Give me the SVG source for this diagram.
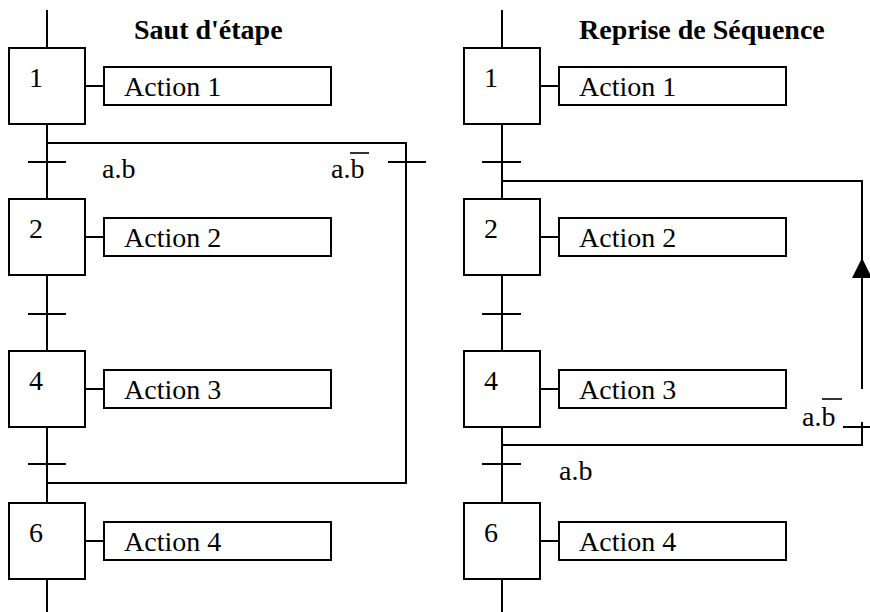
<svg xmlns="http://www.w3.org/2000/svg" width="870" height="612" viewBox="0 0 870 612" font-family="'Liberation Serif', 'Times New Roman', serif" font-size="28">
  <style>
    .box { fill: #fff; stroke: #000; stroke-width: 2; }
    .ln { fill: none; stroke: #000; stroke-width: 2; }
    .bar { stroke: #000; stroke-width: 1.6; }
  </style>
  <defs>
    <marker id="arrowHead" viewBox="0 0 20 20" refX="20" refY="10" markerWidth="20" markerHeight="20" markerUnits="userSpaceOnUse" orient="auto">
      <path d="M0,0 L20,10 L0,20 Z" fill="#000"/>
    </marker>
  </defs>

  <rect width="870" height="612" fill="#fff"/>

  <!-- Titles -->
  <g font-weight="bold">
    <text x="134" y="39">Saut d'étape</text>
    <text x="579" y="39">Reprise de Séquence</text>
  </g>

  <!-- Connectors: main flow lines, transitions, branches -->
  <g id="connectors">
    <!-- left chart: main vertical flow -->
    <path class="ln" d="M47,10 V48 M47,124 V199 M47,275 V351 M47,427 V503 M47,579 V612"/>
    <!-- left chart: transitions -->
    <path class="ln" d="M28,162 H66 M28,314 H66 M28,464 H66"/>
    <!-- left chart: step skip branch -->
    <path class="ln" d="M47,143 H406 V483 H47"/>
    <path class="ln" d="M388,162 H426"/>

    <!-- right chart: main vertical flow -->
    <path class="ln" d="M502,10 V48 M502,124 V199 M502,275 V351 M502,427 V503 M502,579 V612"/>
    <!-- right chart: transitions -->
    <path class="ln" d="M482,162 H521 M482,314 H521 M482,464 H521"/>
    <!-- right chart: sequence resumption loop -->
    <path class="ln" d="M502,445 H862 V422"/>
    <path class="ln" d="M862,389 V258" marker-end="url(#arrowHead)"/>
    <path class="ln" d="M862,258 V181 H502"/>
    <path class="ln" d="M843,427 H870"/>

    <!-- step-to-action links -->
    <path class="ln" d="M85,86 H104 M85,237 H104 M85,389 H104 M85,541 H104"/>
    <path class="ln" d="M540,86 H559 M540,237 H559 M540,389 H559 M540,541 H559"/>
  </g>

  <!-- Transition conditions -->
  <g id="conditions">
    <text x="102" y="178">a.b</text>
    <text x="331" y="178">a.b</text>
    <line class="bar" x1="350" y1="153" x2="369" y2="153"/>
    <text x="559" y="480">a.b</text>
    <text x="802" y="426">a.b</text>
    <line class="bar" x1="822" y1="399" x2="842" y2="399"/>
  </g>

  <!-- Left chart steps -->
  <g id="L-step1"><rect class="box" x="9" y="48" width="76" height="76"/><text x="29" y="87">1</text></g>
  <g id="L-action1"><rect class="box" x="104" y="67" width="227" height="38"/><text x="124" y="96">Action 1</text></g>
  <g id="L-step2"><rect class="box" x="9" y="199" width="76" height="76"/><text x="29" y="238">2</text></g>
  <g id="L-action2"><rect class="box" x="104" y="218" width="227" height="38"/><text x="124" y="247">Action 2</text></g>
  <g id="L-step4"><rect class="box" x="9" y="351" width="76" height="76"/><text x="29" y="390">4</text></g>
  <g id="L-action3"><rect class="box" x="104" y="370" width="227" height="38"/><text x="124" y="399">Action 3</text></g>
  <g id="L-step6"><rect class="box" x="9" y="503" width="76" height="76"/><text x="29" y="542">6</text></g>
  <g id="L-action4"><rect class="box" x="104" y="522" width="227" height="38"/><text x="124" y="551">Action 4</text></g>

  <!-- Right chart steps -->
  <g id="R-step1"><rect class="box" x="464" y="48" width="76" height="76"/><text x="484" y="87">1</text></g>
  <g id="R-action1"><rect class="box" x="559" y="67" width="227" height="38"/><text x="579" y="96">Action 1</text></g>
  <g id="R-step2"><rect class="box" x="464" y="199" width="76" height="76"/><text x="484" y="238">2</text></g>
  <g id="R-action2"><rect class="box" x="559" y="218" width="227" height="38"/><text x="579" y="247">Action 2</text></g>
  <g id="R-step4"><rect class="box" x="464" y="351" width="76" height="76"/><text x="484" y="390">4</text></g>
  <g id="R-action3"><rect class="box" x="559" y="370" width="227" height="38"/><text x="579" y="399">Action 3</text></g>
  <g id="R-step6"><rect class="box" x="464" y="503" width="76" height="76"/><text x="484" y="542">6</text></g>
  <g id="R-action4"><rect class="box" x="559" y="522" width="227" height="38"/><text x="579" y="551">Action 4</text></g>
</svg>
